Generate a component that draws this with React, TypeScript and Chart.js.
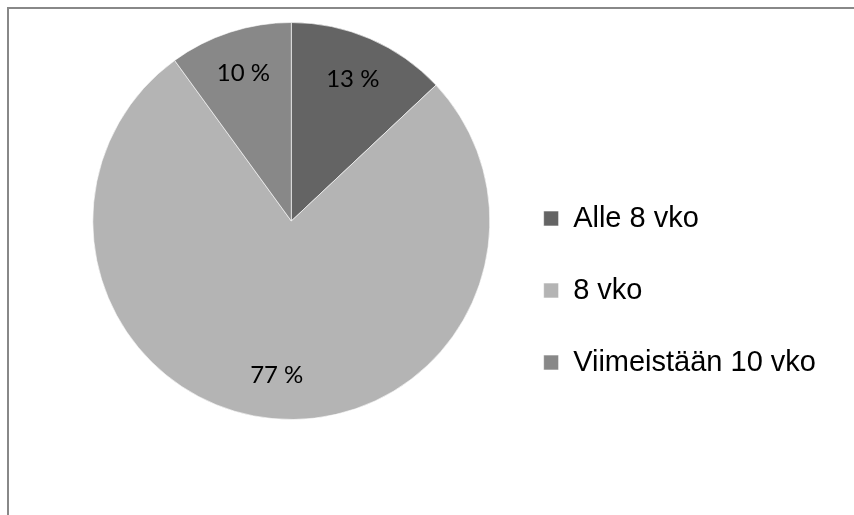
import React, { useEffect, useRef } from "react";
import { Chart, registerables } from "chart.js";

Chart.register(...registerables);

const categories = ["Alle 8 vko", "8 vko", "Viimeistään 10 vko"];
const values = [13, 77, 10];
const sliceColors = ["#646464", "#b4b4b4", "#888888"];

const sliceLabelsPlugin = {
  id: "sliceLabels",
  afterDatasetsDraw(chart: any) {
    const ctx = chart.ctx;
    const meta = chart.getDatasetMeta(0);
    const data = chart.data.datasets[0].data;
    ctx.save();
    ctx.font = '24px Lato, "Open Sans", sans-serif';
    ctx.fillStyle = "#000000";
    ctx.textAlign = "center";
    ctx.textBaseline = "middle";
    meta.data.forEach((arc: any, i: number) => {
      const p = arc.getProps(["x", "y", "startAngle", "endAngle", "outerRadius"], true);
      const mid = (p.startAngle + p.endAngle) / 2;
      const d = p.outerRadius * 0.78;
      ctx.fillText(`${data[i]} %`, p.x + Math.cos(mid) * d, p.y + Math.sin(mid) * d);
    });
    ctx.restore();
  },
};

export default function App() {
  const ref = useRef<HTMLCanvasElement | null>(null);
  useEffect(() => {
    if (!ref.current) return;
    const chart = new Chart(ref.current, {
      type: "pie",
      data: {
        labels: categories,
        datasets: [
          {
            data: values,
            backgroundColor: sliceColors,
            borderColor: "rgba(255,255,255,0.6)",
            borderWidth: 1,
          },
        ],
      },
      options: {
        responsive: false,
        animation: false,
        layout: { padding: { left: 82, top: 22, bottom: 95, right: 28 } },
        plugins: {
          tooltip: { enabled: false },
          legend: {
            position: "right",
            align: "end",
            labels: {
              boxWidth: 15,
              boxHeight: 15,
              padding: 43,
              color: "#000000",
              font: { family: '"Liberation Sans", Arial, sans-serif', size: 29 },
            },
          },
        },
      },
      plugins: [sliceLabelsPlugin],
    });
    return () => chart.destroy();
  }, []);

  return (
    <div style={{ position: "absolute", left: 0, top: 0, width: 854, height: 515, background: "#fff", overflow: "hidden" }}>
      <div
        style={{
          position: "absolute",
          left: 7,
          top: 7,
          width: 860,
          height: 520,
          borderLeft: "2px solid #888888",
          borderTop: "2px solid #888888",
          boxSizing: "border-box",
        }}
      />
      <canvas ref={ref} width={854} height={515} style={{ position: "absolute", left: 0, top: 0 }} />
    </div>
  );
}
